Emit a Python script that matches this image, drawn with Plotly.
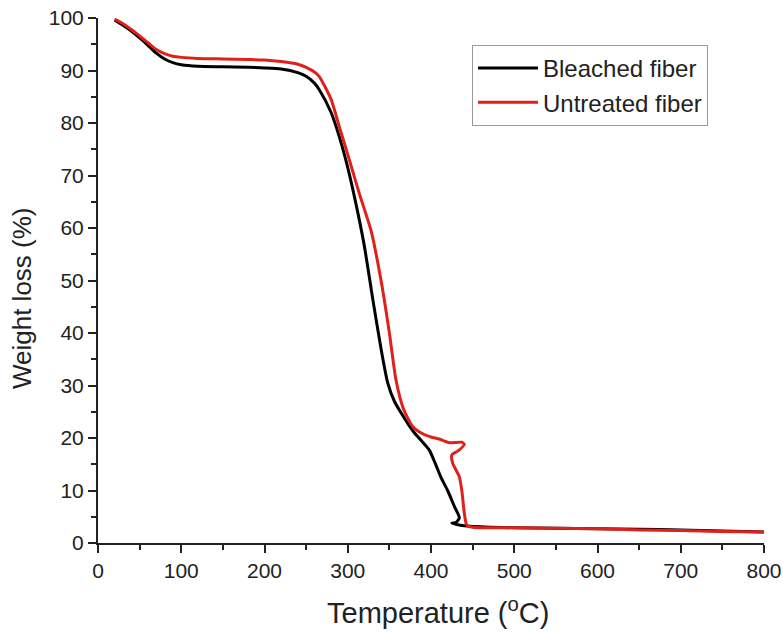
import plotly.graph_objects as go

# Bleached fiber (black)
bleached_T = [20, 30, 40, 50, 60, 70, 80, 90, 100, 120, 150, 180, 200, 220, 240, 250, 260, 266,
              280, 290, 300, 310, 320, 330, 340, 348, 356, 364, 372, 380, 390, 398, 405, 412, 420,
              428, 434, 430, 425, 435, 447, 500, 550, 600, 650, 700, 750, 800]
bleached_W = [99.6, 98.6, 97.5, 96.2, 94.8, 93.3, 92.2, 91.5, 91.1, 90.8, 90.7, 90.6, 90.5, 90.3,
              89.6, 88.9, 87.6, 86.3, 82.0, 77.3, 71.5, 64.5, 56.5, 46.5, 37.0, 30.5, 27.0, 24.8,
              22.8, 21.0, 19.2, 17.7, 15.2, 12.5, 10.0, 7.0, 4.8, 3.9, 3.8, 3.4, 3.2, 2.9, 2.8, 2.7,
              2.6, 2.5, 2.3, 2.1]

# Untreated fiber (red)
untreated_T = [20, 30, 40, 50, 60, 70, 80, 90, 100, 120, 150, 180, 200, 220, 240, 250, 260, 266,
               280, 290, 300, 314, 328, 340, 350, 358, 367, 378, 390, 400, 410, 422, 437,
               440, 432, 425, 426, 434, 437, 440, 443, 450, 500, 550, 600, 650, 700, 750, 800]
untreated_W = [99.8, 98.9, 97.8, 96.6, 95.3, 94.0, 93.2, 92.7, 92.5, 92.3, 92.2, 92.1, 92.0, 91.7,
               91.2, 90.6, 89.7, 88.8, 84.5, 79.2, 74.0, 66.5, 59.5, 50.0, 40.0, 31.0, 25.5,
               22.2, 20.8, 20.2, 19.8, 19.1, 19.2, 18.8, 17.5, 16.8, 15.2, 12.6, 10.0, 5.7, 3.4,
               3.0, 2.9, 2.8, 2.7, 2.5, 2.4, 2.2, 2.1]

x_ticks = [0, 100, 200, 300, 400, 500, 600, 700, 800]
y_ticks = [0, 10, 20, 30, 40, 50, 60, 70, 80, 90, 100]

FONT = "Liberation Sans, Arial, sans-serif"
TXT = "#222222"

fig = go.Figure()
fig.add_trace(go.Scatter(x=bleached_T, y=bleached_W, mode="lines", name="Bleached fiber",
                         line=dict(color="#000000", width=3, shape="spline", smoothing=0.6)))
fig.add_trace(go.Scatter(x=untreated_T, y=untreated_W, mode="lines", name="Untreated fiber",
                         line=dict(color="#e0201b", width=3, shape="spline", smoothing=0.6)))

axis_common = dict(
    showline=True, linecolor=TXT, linewidth=2, mirror=False,
    ticks="outside", ticklen=8, tickwidth=2, tickcolor=TXT,
    showgrid=False, zeroline=False, automargin=False,
    ticklabeloverflow="allow",
    tickfont=dict(family=FONT, size=21, color=TXT),
)

fig.update_layout(
    width=783, height=633,
    margin=dict(l=98, r=19, t=18, b=90),
    paper_bgcolor="white", plot_bgcolor="white",
    xaxis=dict(range=[0, 800], tickvals=x_ticks,
               minor=dict(dtick=50, ticks="outside", ticklen=5, tickwidth=2, tickcolor=TXT),
               **axis_common),
    yaxis=dict(range=[0, 100], tickvals=y_ticks,
               minor=dict(dtick=5, ticks="outside", ticklen=5, tickwidth=2, tickcolor=TXT),
               **axis_common),
    legend=dict(x=0.5616, y=0.9486, xanchor="left", yanchor="top",
                bordercolor="#9a9a9a", borderwidth=1, bgcolor="white",
                font=dict(family=FONT, size=24, color=TXT),
                tracegroupgap=0, itemwidth=60),
    showlegend=True,
    annotations=[
        dict(text="Temperature (<sup>o</sup>C)", xref="paper", yref="paper",
             x=0.5105, y=-0.1295, xanchor="center", yanchor="middle", showarrow=False,
             font=dict(family=FONT, size=29, color=TXT)),
        dict(text="Weight loss (%)", xref="paper", yref="paper", textangle=-90,
             x=-0.114, y=0.4667, xanchor="center", yanchor="middle", showarrow=False,
             font=dict(family=FONT, size=26, color=TXT)),
    ],
)

fig.write_html("out.html", config={"displayModeBar": False},
               post_script="document.body.style.margin='0';document.body.style.overflow='hidden';")
